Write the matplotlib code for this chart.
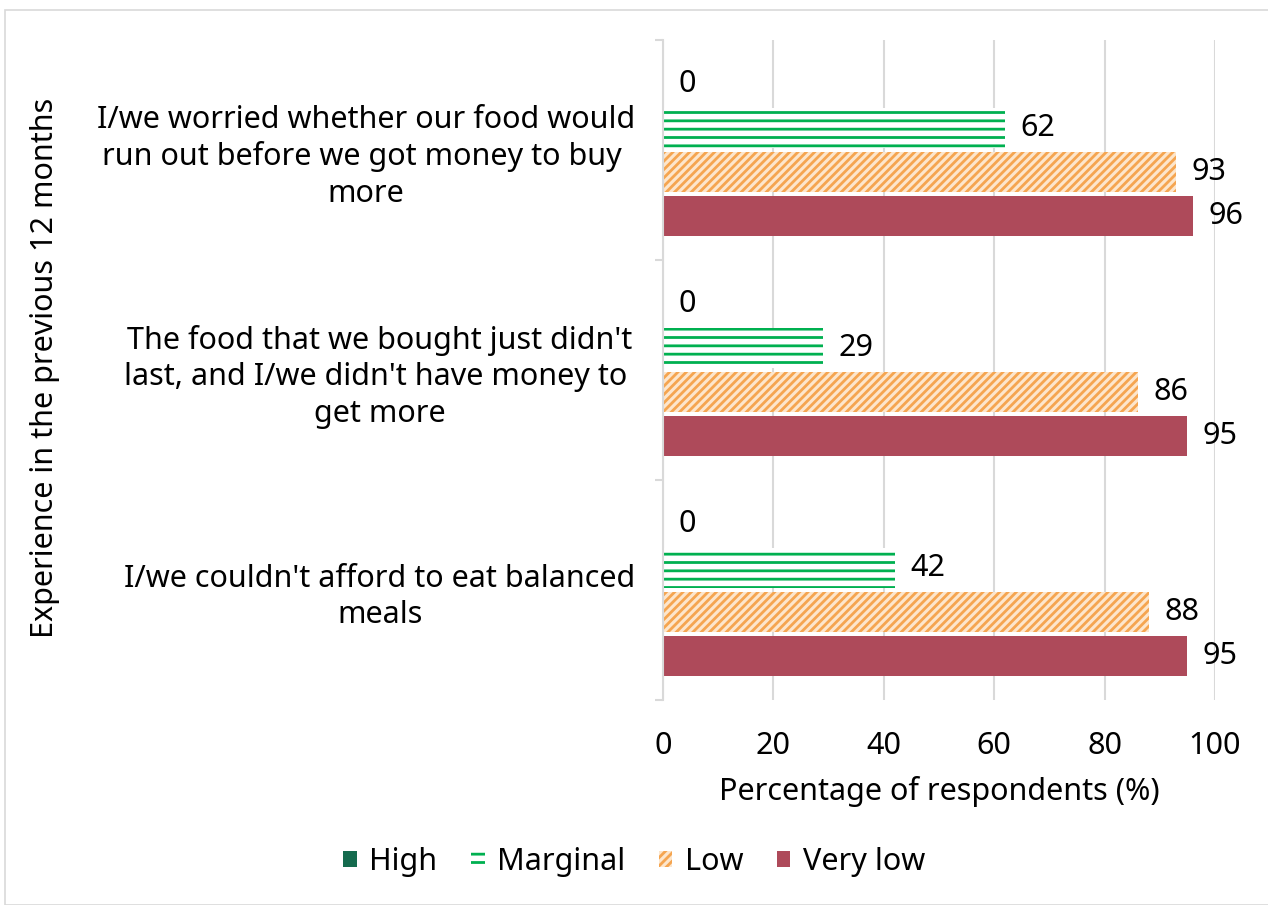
import matplotlib
matplotlib.use("Agg")
import matplotlib.pyplot as plt
from matplotlib.patches import Rectangle, Patch

plt.rcParams["font.family"] = ["Noto Sans", "DejaVu Sans"]
plt.rcParams["hatch.linewidth"] = 2.0

questions = [
    "I/we worried whether our food would\nrun out before we got money to buy \nmore",
    "The food that we bought just didn't\nlast, and I/we didn't have money to \nget more",
    "I/we couldn't afford to eat balanced\nmeals",
]
levels = ["High", "Marginal", "Low", "Very low"]
high = [0, 0, 0]
marginal = [62, 29, 42]
low = [93, 86, 88]
very_low = [96, 95, 95]

series = [high, marginal, low, very_low]
faces = ["#156B4E", "white", "#FDE6CC", "#AE4A5A"]
edges = ["#156B4E", "#00B050", "#F5A550", "#AE4A5A"]
hatches = [None, "--", "////", None]
offsets = [-0.3, -0.1, 0.1, 0.3]
fs = 22

fig = plt.figure(figsize=(12.68, 9.05), dpi=100)
fig.patches.append(Rectangle((5 / 1268, 0), 1.0, 1 - 10 / 905, transform=fig.transFigure,
                             fill=False, edgecolor="#D9D9D9", linewidth=1.2))
ax = fig.add_axes([663 / 1268, 1 - 700 / 905, (1215 - 663) / 1268, (700 - 40) / 905])

for vals, fc, ec, h, off, name in zip(series, faces, edges, hatches, offsets, levels):
    ys = [i + off for i in range(len(questions))]
    ax.barh(ys, vals, height=0.18, color=fc, edgecolor=ec, hatch=h, linewidth=0, label=name)
    for y, v in zip(ys, vals):
        ax.text(v + 2.8, y, str(v), va="center", ha="left", fontsize=fs, color="black")

ax.set_xlim(0, 100)
ax.set_ylim(2.5, -0.5)
ax.set_xticks(range(0, 101, 20))
ax.grid(axis="x", color="#D9D9D9", linewidth=1.5)
ax.set_axisbelow(True)
for s in ["top", "right", "bottom"]:
    ax.spines[s].set_visible(False)
ax.spines["left"].set_color("#D9D9D9")
ax.spines["left"].set_linewidth(1.5)
ax.tick_params(axis="x", length=0, pad=22, labelsize=fs)
ax.set_yticks(range(len(questions)))
ax.set_yticklabels(questions, fontsize=fs, multialignment="center", linespacing=1.28)
ax.tick_params(axis="y", which="major", length=0, pad=20)
ax.set_yticks([-0.5, 0.5, 1.5, 2.5], minor=True)
ax.tick_params(axis="y", which="minor", length=6, width=1.5, color="#D9D9D9")
ax.set_xlabel("Percentage of respondents (%)", fontsize=fs, labelpad=11)
fig.text(45 / 1268, 1 - 368 / 905, "Experience in the previous 12 months", rotation=90,
         ha="center", va="center", fontsize=fs)

handles = [Patch(facecolor=fc, edgecolor=ec, hatch=h, linewidth=0, label=n)
           for fc, ec, h, n in zip(faces, edges, hatches, levels)]
fig.legend(handles=handles, loc="center", bbox_to_anchor=(0.5, 1 - 862 / 905), ncol=4,
           frameon=False, fontsize=fs, handlelength=0.45, handleheight=0.45,
           handletextpad=0.4, columnspacing=1.1)

fig.savefig("out.png", dpi=100)
